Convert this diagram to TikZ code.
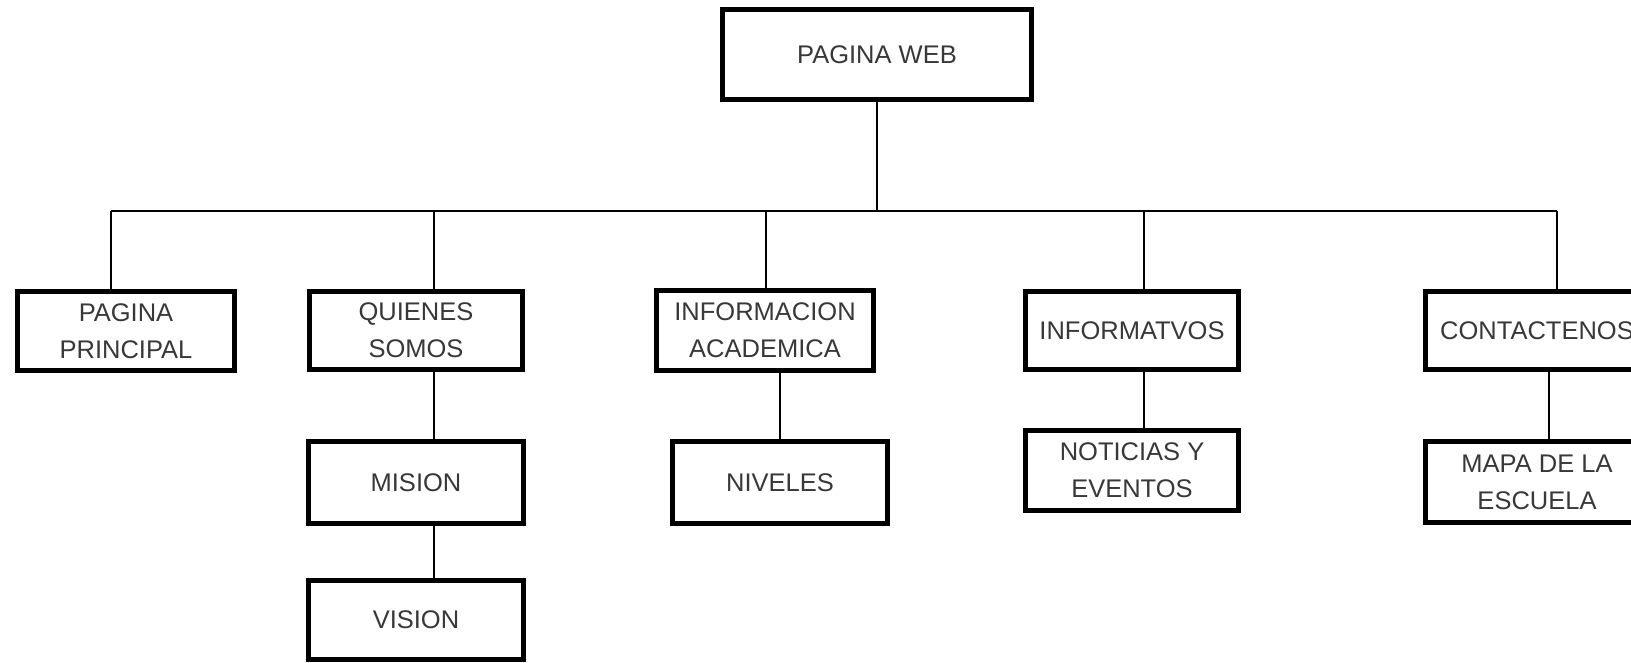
\documentclass[tikz,border=0pt]{standalone}
\usepackage{fontspec}
\setmainfont{Liberation Sans}
\begin{document}
\begin{tikzpicture}[x=1pt,y=-1pt,
  box/.style={draw=black, line width=5pt, rectangle, inner sep=0pt, align=center,
    text=black!78, font=\fontsize{25.5}{37}\selectfont},
  link/.style={draw=black, line width=2.4pt}]
\useasboundingbox (0,0) rectangle (1631,663);
\clip (0,0) rectangle (1631,663);
\fill[white] (0,0) rectangle (1631,663);
% boxes
\node[box, minimum width=309pt, minimum height=90pt] (web) at (877,54.5) {PAGINA WEB};
\node[box, minimum width=217pt, minimum height=79pt] (pp) at (126,331) {PAGINA\\PRINCIPAL};
\node[box, minimum width=213pt, minimum height=78pt] (qs) at (416,330.5) {QUIENES\\SOMOS};
\node[box, minimum width=217pt, minimum height=80pt] (ia) at (765,330.5) {INFORMACION\\ACADEMICA};
\node[box, minimum width=213pt, minimum height=78pt] (inf) at (1132,330.5) {INFORMATVOS};
\node[box, minimum width=223pt, minimum height=78pt] (con) at (1537,330.5) {CONTACTENOS};
\node[box, minimum width=215pt, minimum height=82pt] (mis) at (416,482.5) {MISION};
\node[box, minimum width=215pt, minimum height=79pt] (vis) at (416,620) {VISION};
\node[box, minimum width=215pt, minimum height=82pt] (niv) at (780,482.5) {NIVELES};
\node[box, minimum width=213pt, minimum height=80pt] (not) at (1132,470.5) {NOTICIAS Y\\EVENTOS};
\node[box, minimum width=223pt, minimum height=81pt] (mapa) at (1537,482) {MAPA DE LA\\ESCUELA};
% bus coordinates
\coordinate (bw) at (877,211);
\coordinate (b1) at (111,211);
\coordinate (b2) at (434,211);
\coordinate (b3) at (766,211);
\coordinate (b4) at (1144,211);
\coordinate (b5) at (1557,211);
\coordinate (xq) at (434,0);
\coordinate (xa) at (780,0);
\coordinate (xn) at (1144,0);
\coordinate (xc) at (1549,0);
% connectors
\draw[link] (web.south) -- (bw);
\draw[link] (b1) -- (b5);
\draw[link] (b1) -- (b1 |- pp.north);
\draw[link] (b2) -- (b2 |- qs.north);
\draw[link] (b3) -- (b3 |- ia.north);
\draw[link] (b4) -- (b4 |- inf.north);
\draw[link] (b5) -- (b5 |- con.north);
\draw[link] (xq |- qs.south) -- (xq |- mis.north);
\draw[link] (xq |- mis.south) -- (xq |- vis.north);
\draw[link] (xa |- ia.south) -- (xa |- niv.north);
\draw[link] (xn |- inf.south) -- (xn |- not.north);
\draw[link] (xc |- con.south) -- (xc |- mapa.north);
\end{tikzpicture}
\end{document}
